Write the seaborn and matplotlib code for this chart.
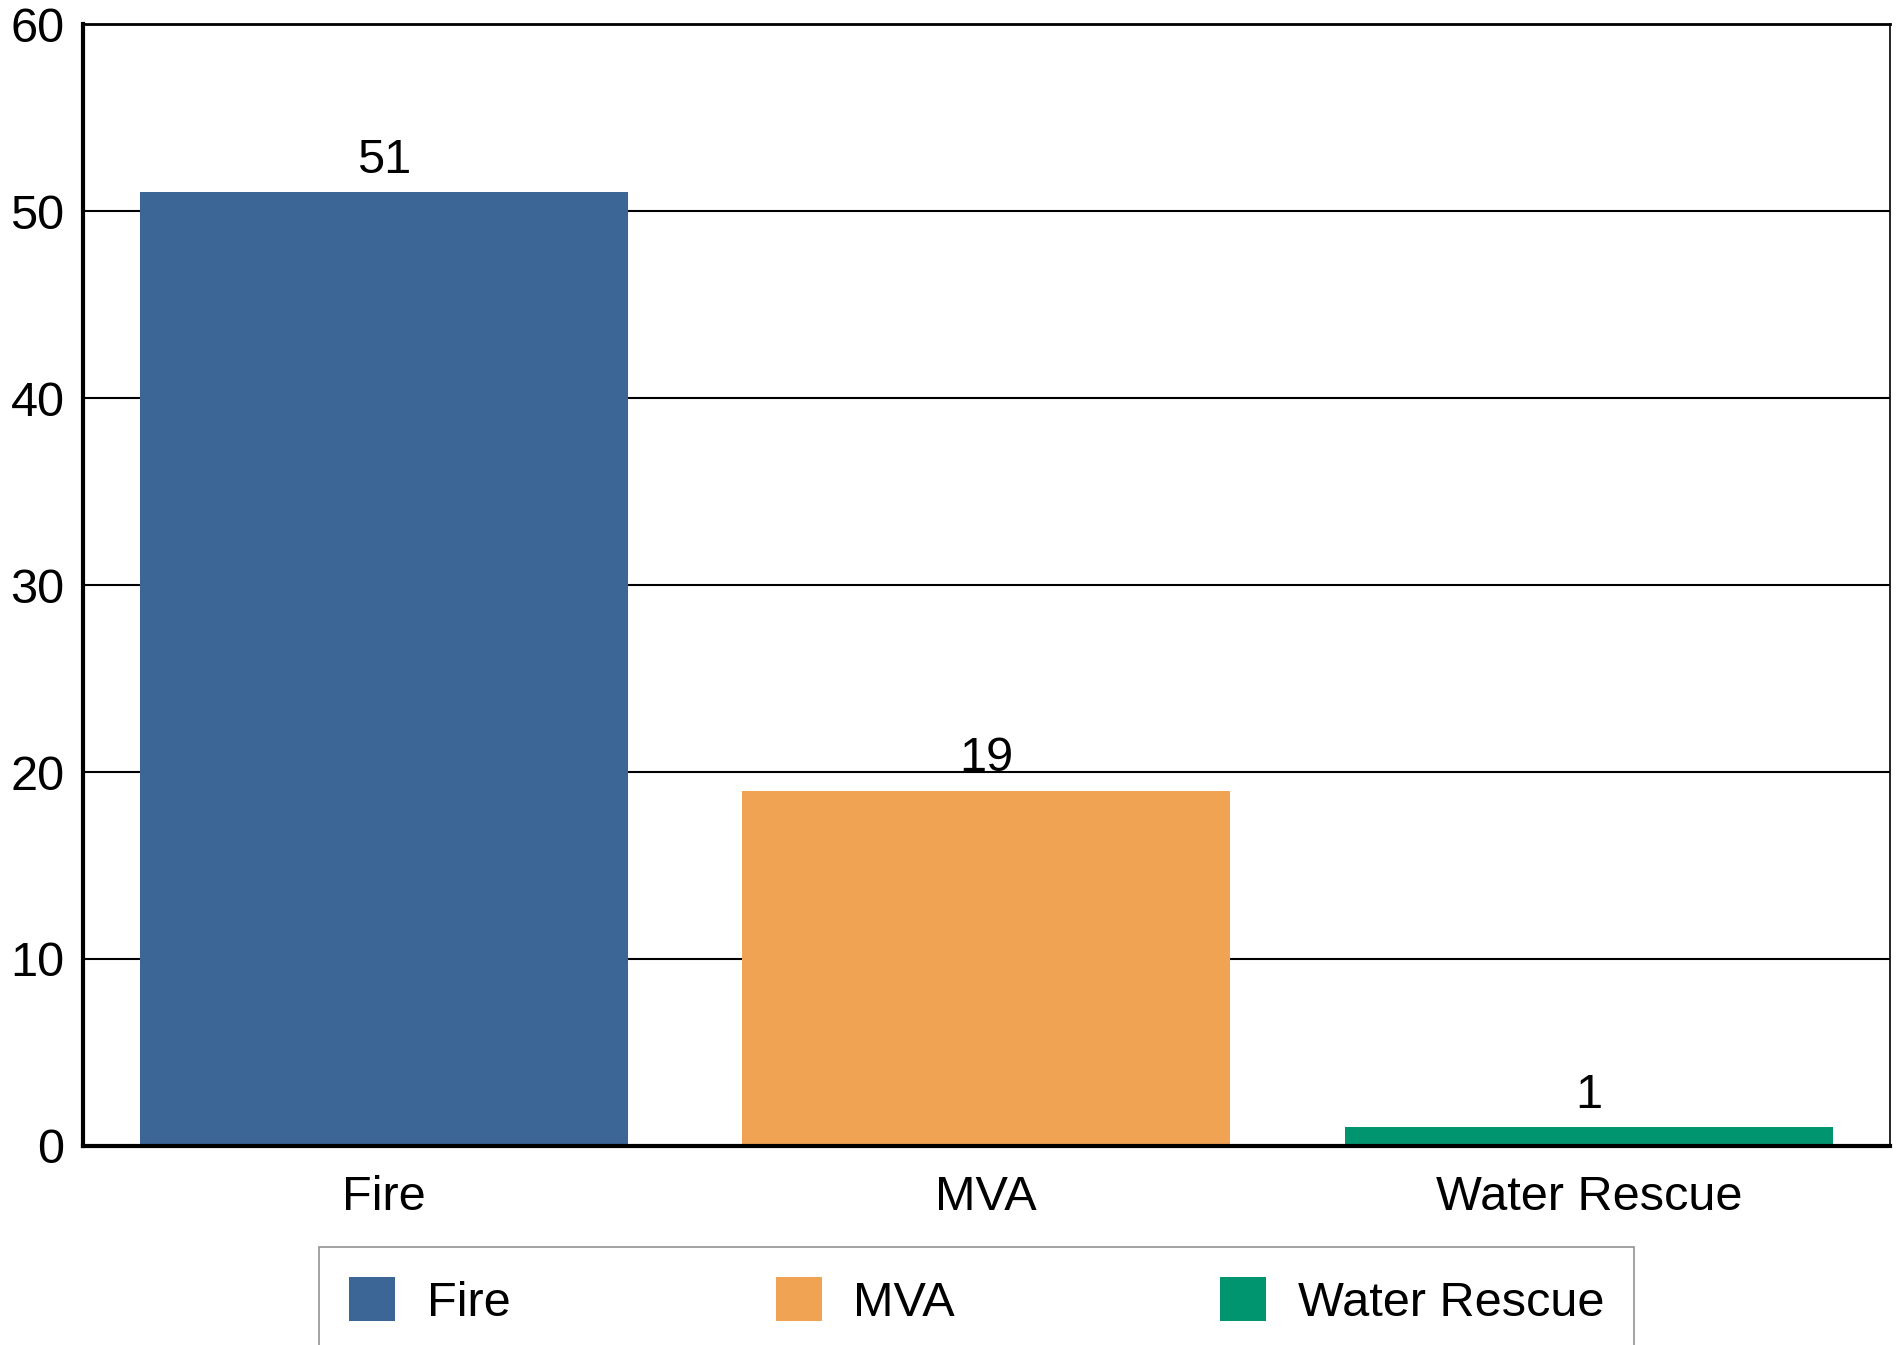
import matplotlib
matplotlib.use("Agg")
import matplotlib.pyplot as plt
import seaborn as sns
import pandas as pd

# chart data
categories = ["Fire", "MVA", "Water Rescue"]
counts = [51, 19, 1]
bar_colors = ["#3b6696", "#efa353", "#00946f"]
y_ticks = [0, 10, 20, 30, 40, 50, 60]

sns.set_theme(style="white")
plt.rcParams["font.family"] = ["Liberation Sans", "DejaVu Sans"]
plt.rcParams["text.color"] = "black"

df = pd.DataFrame({"category": categories, "count": counts})

fig = plt.figure(figsize=(19.02, 13.45), dpi=100)
ax = fig.add_axes([0.0434, 0.148, 0.9503, 0.834])

sns.barplot(data=df, x="category", y="count", hue="category",
            palette=bar_colors, width=0.81, dodge=False, legend=False,
            saturation=1, linewidth=0, edgecolor="none", ax=ax, zorder=3)

ax.set_xlim(-0.5, 2.5)
ax.set_ylim(0, 60)
ax.set_yticks(y_ticks)
ax.set_xlabel("")
ax.set_ylabel("")

# black horizontal gridlines behind the bars
ax.yaxis.grid(True, color="black", linewidth=1.5, zorder=0)
ax.set_axisbelow(True)

ax.tick_params(axis="y", labelsize=35, length=0, pad=13, colors="black")
ax.tick_params(axis="x", labelsize=35, length=0, pad=21, colors="black")

for side in ["left", "bottom"]:
    ax.spines[side].set_linewidth(3)
    ax.spines[side].set_color("black")
ax.spines["top"].set_linewidth(2)
ax.spines["top"].set_color("black")
ax.spines["right"].set_linewidth(1.2)
ax.spines["right"].set_color("black")
for side in ["left", "bottom", "top", "right"]:
    ax.spines[side].set_zorder(4)

# value labels above bars
for container in ax.containers:
    ax.bar_label(container, fmt="%d", fontsize=35, padding=7, color="black")

# legend below the plot, built from the drawn bars
handles = [c.patches[0] for c in ax.containers]
leg = fig.legend(handles, categories, loc="upper left",
                 bbox_to_anchor=(0.1677, 0.0729), ncol=3, fontsize=35,
                 frameon=True, fancybox=False, borderaxespad=0,
                 handlelength=0.95, handleheight=1.02, handletextpad=0.65,
                 columnspacing=5.45, borderpad=0.62)
leg.get_frame().set_edgecolor("#777777")
leg.get_frame().set_linewidth(1.2)
for t in leg.get_texts():
    t.set_color("black")

fig.savefig("out.png", dpi=100)
